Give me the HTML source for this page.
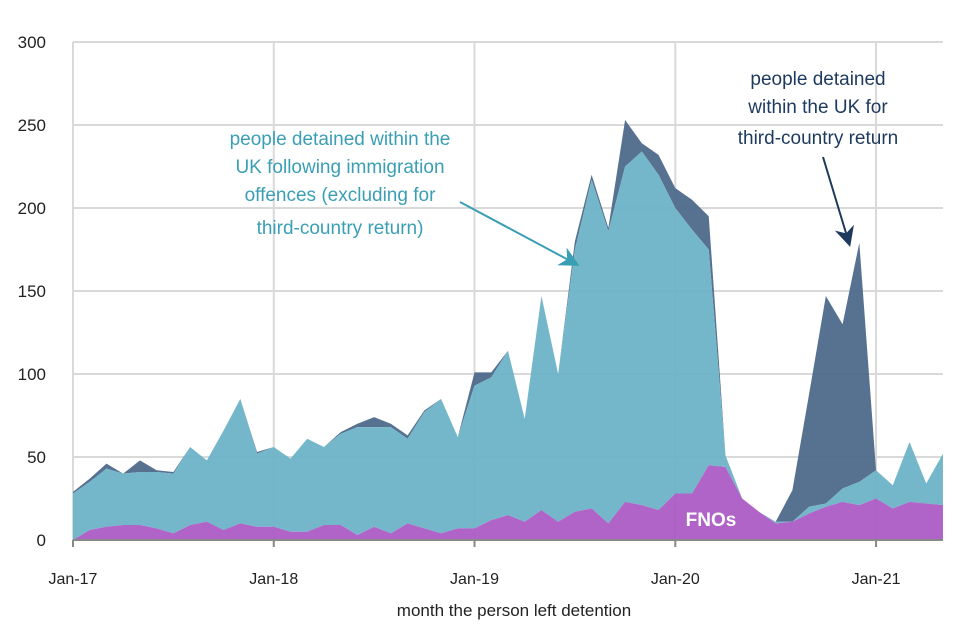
<!DOCTYPE html>
<html><head><meta charset="utf-8"><style>
html,body{margin:0;background:#fff;overflow:hidden;width:960px;height:640px;}
svg{display:block;}
svg text{font-family:"Liberation Sans",sans-serif;}
</style></head><body>
<svg id="chart" width="960" height="640" style="position:absolute;left:0;top:0"></svg>
<script>
const months = 53;
const fno = [0,6,8,9,9,7,4,9,11,6,10,8,8,5,5,9,9,3,8,4,10,7,4,7,7,12,15,11,18,11,17,19,10,23,21,18,28,28,45,44,25,17,10,11,16,20,23,21,25,19,23,22,21];
const lightTop = [28,35,43,40,41,41,40,56,48,66,85,52,56,49,61,56,64,68,68,68,61,77,85,62,93,98,114,73,147,100,175,217,186,225,234,220,200,187,175,51,25,17,11,11,20,22,31,35,42,33,59,34,52];
const totalTop = [29,37,46,40,48,42,41,56,48,66,85,53,56,49,61,56,65,70,74,70,63,78,85,62,101,101,114,73,147,100,180,220,188,253,239,232,212,205,195,51,25,17,11,30,88,147,130,179,42,33,59,34,52];
const imm = lightTop.map((v,i)=>v-fno[i]);
const tcr = totalTop.map((v,i)=>v-lightTop[i]);
const yTicks = [0,50,100,150,200,250,300];
const xTickLabels = ["Jan-17","Jan-18","Jan-19","Jan-20","Jan-21"];
const xTickIdx = [0,12,24,36,48];

const NS="http://www.w3.org/2000/svg";
const svg=document.getElementById('chart');
const X0=73, XW=16.73, Y0=540, YS=498/300;
const x=i=>X0+i*XW, y=v=>Y0-v*YS;
function mk(t,a){const e=document.createElementNS(NS,t);for(const k in a)e.setAttribute(k,a[k]);svg.appendChild(e);return e;}

yTicks.forEach(v=>{
  const g=mk('line',{x1:X0,x2:x(months-1),y1:y(v),y2:y(v),stroke:'#d9d9d9','stroke-width':2});
  
  
  const t=mk('text',{x:46,y:y(v)+6,'text-anchor':'end','font-size':17,fill:'#222'});
  t.textContent=v;
  
  
});
xTickIdx.forEach((idx,k)=>{
  const g=mk('line',{x1:x(idx),x2:x(idx),y1:y(300),y2:Y0,stroke:'#d9d9d9','stroke-width':2});
  
  
  const tk=mk('line',{x1:x(idx),x2:x(idx),y1:Y0,y2:Y0+7,stroke:'#888','stroke-width':2});
  
  
  const t=mk('text',{x:x(idx),y:584,'text-anchor':'middle','font-size':16,fill:'#222'});
  t.textContent=xTickLabels[k];
  
  
});

function area(lower,upper,color,name){
  let d='M'+x(0)+','+y(upper[0]);
  for(let i=1;i<months;i++) d+='L'+x(i)+','+y(upper[i]);
  for(let i=months-1;i>=0;i--) d+='L'+x(i)+','+y(lower[i]);
  d+='Z';
  const p=mk('path',{d:d,fill:color,opacity:0.93});
  
  
}
const zero=fno.map(()=>0);
const s1=fno.slice();
const s2=fno.map((v,i)=>v+imm[i]);
const s3=s2.map((v,i)=>v+tcr[i]);
area(s2,s3,'#4a6689','third-country-return-area');
area(s1,s2,'#6ab2c6','immigration-offences-area');
area(zero,s1,'#aa58c4','fno-area');

const ax=mk('line',{x1:X0,x2:x(months-1),y1:Y0,y2:Y0,stroke:'#888','stroke-width':2});


</script>
<svg width="960" height="640" style="position:absolute;left:0;top:0">
<defs>
<marker id="ah1" markerWidth="10" markerHeight="10" refX="8" refY="5" orient="auto"><path d="M0,0 L10,5 L0,10 L3,5Z" fill="#3a9fb5"/></marker>
<marker id="ah2" markerWidth="10" markerHeight="10" refX="8" refY="5" orient="auto"><path d="M0,0 L10,5 L0,10 L3,5Z" fill="#1d3a5e"/></marker>
</defs>
<g font-family="Liberation Sans, sans-serif" font-size="19" fill="#3a9fb5" text-anchor="middle">
<text x="340" y="145">people detained within the</text>
<text x="340" y="173">UK following immigration</text>
<text x="340" y="201">offences (excluding for</text>
<text x="340" y="234">third-country return)</text>
</g>
<line x1="460" y1="202" x2="576" y2="264" stroke="#3a9fb5" stroke-width="2" marker-end="url(#ah1)"/>
<g font-family="Liberation Sans, sans-serif" font-size="19" fill="#1d3a5e" text-anchor="middle">
<text x="818" y="85">people detained</text>
<text x="818" y="113">within the UK for</text>
<text x="818" y="144">third-country return</text>
</g>
<line x1="823" y1="157" x2="849" y2="243" stroke="#1d3a5e" stroke-width="2" marker-end="url(#ah2)"/>
<text x="711" y="526" font-family="Liberation Sans, sans-serif" font-size="19" font-weight="bold" fill="#fff" text-anchor="middle">FNOs</text>
<text x="514" y="616" font-family="Liberation Sans, sans-serif" font-size="17" fill="#222" text-anchor="middle">month the person left detention</text>
</svg>
</body></html>
